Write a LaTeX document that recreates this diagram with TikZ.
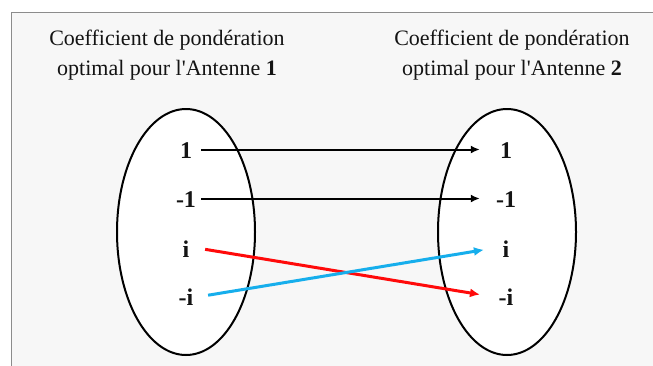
\documentclass[tikz,border=0pt]{standalone}
\usepackage{fontspec}
\setmainfont{Liberation Serif}
\usetikzlibrary{arrows.meta}
\newcommand{\straightapos}{\XeTeXglyph\numexpr\XeTeXcharglyph"27\relax}
\definecolor{framegray}{HTML}{8C8C8C}
\definecolor{panel}{HTML}{F7F7F7}
\definecolor{arrred}{HTML}{FF0A0A}
\definecolor{arrblue}{HTML}{16AEEC}
\tikzset{
  title/.style={align=center, anchor=base, inner sep=0pt, text=black!92,
    font=\fontsize{22}{30}\selectfont},
  val/.style={anchor=base, inner sep=0pt, minimum width=28pt, text height=17pt, text depth=0pt,
    font=\fontsize{24}{28}\selectfont\bfseries, text=black!92},
  set/.style={draw=black, fill=white, line width=2pt},
  map/.style={line width=2pt, -{Latex[length=9pt,width=8pt]}},
  cmap/.style={line width=3pt, -{Latex[length=10pt,width=9pt]}},
}
\begin{document}
\begin{tikzpicture}[x=1pt,y=-1pt]
\useasboundingbox (0,0) rectangle (653,365);
\begin{scope}
\clip (0,0) rectangle (653,365);
\fill[white] (0,0) rectangle (653,365);
\draw[framegray, fill=panel, line width=1.6pt] (11.5,12.5) rectangle (680,390);
\end{scope}
\node[title] (t1) at (167,75) {Coefficient de pondération\\optimal pour l\straightapos Antenne \textbf{1}};
\node[title] (t2) at (512,75) {Coefficient de pondération\\optimal pour l\straightapos Antenne \textbf{2}};
\draw[set] (186,232) ellipse [x radius=69, y radius=123];
\draw[set] (507,232) ellipse [x radius=69, y radius=123];
\node[val] (L1) at (186,158) {1};
\node[val] (L2) at (186,207) {-1};
\node[val] (L3) at (186,257) {i};
\node[val] (L4) at (186,305) {-i};
\node[val] (R1) at (506,158) {1};
\node[val] (R2) at (506,207) {-1};
\node[val] (R3) at (506,257) {i};
\node[val] (R4) at (506,305) {-i};
\draw[map, shorten <=1pt, shorten >=12pt] (L1.east) -- (R1.west);
\draw[map, shorten <=1pt, shorten >=12pt] (L2.east) -- (R2.west);
\draw[cmap, arrred, shorten <=5pt, shorten >=12pt] (L3.east) -- (R4.west);
\draw[cmap, arrblue, shorten <=8pt, shorten >=8pt] (L4.east) -- (R3.west);
\end{tikzpicture}
\end{document}
